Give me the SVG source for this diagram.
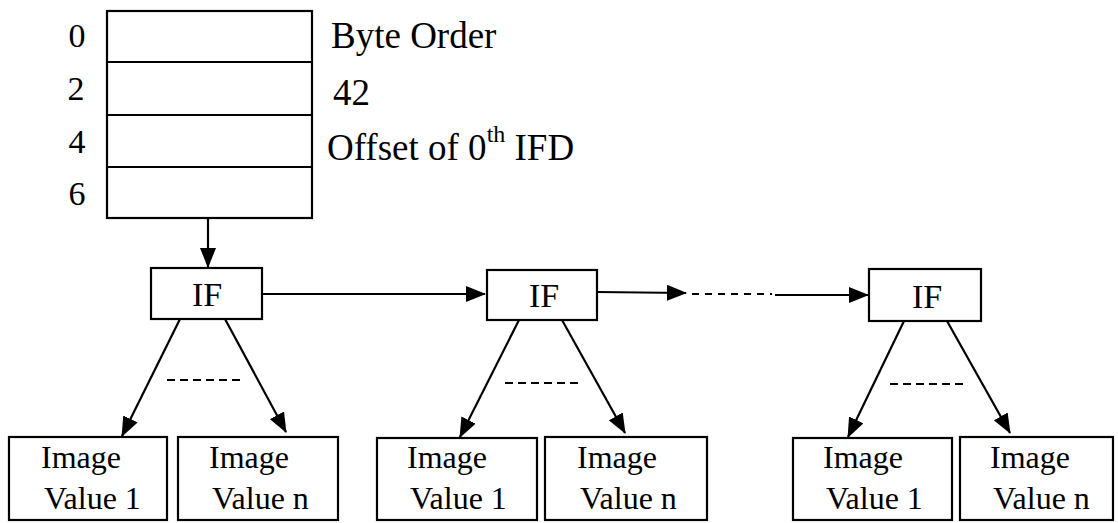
<svg xmlns="http://www.w3.org/2000/svg" width="1118" height="523" viewBox="0 0 1118 523">
<style>
text{font-family:"Liberation Serif","Times New Roman",serif;fill:#000}
.box{fill:#fff;stroke:#000;stroke-width:2.2}
.ln{stroke:#000;stroke-width:2.2;fill:none}
.dash{stroke:#000;stroke-width:2.2;fill:none;stroke-dasharray:8 5}
.lbl{font-size:37px}
.num{font-size:34px}
.if{font-size:34px}
.val{font-size:32px}
</style>
<defs>
<marker id="ahb" viewBox="0 0 20 16" refX="19" refY="8" markerWidth="20" markerHeight="16" markerUnits="userSpaceOnUse" orient="auto">
<path d="M0,0 L20,8 L0,16 z" fill="#000"/>
</marker>
</defs>

<g id="header">
<rect class="box" x="107" y="11" width="205" height="207"/>
<line class="ln" x1="107" y1="62" x2="312" y2="62"/>
<line class="ln" x1="107" y1="115" x2="312" y2="115"/>
<line class="ln" x1="107" y1="167" x2="312" y2="167"/>
<text class="num" x="77" y="47" text-anchor="middle">0</text>
<text class="num" x="76" y="100" text-anchor="middle">2</text>
<text class="num" x="77" y="153" text-anchor="middle">4</text>
<text class="num" x="77" y="205" text-anchor="middle">6</text>
<text class="lbl" x="331" y="48">Byte Order</text>
<text class="lbl" x="333" y="105">42</text>
<text class="lbl" x="327" y="160">Offset of 0<tspan font-size="24" dy="-18">th</tspan><tspan dy="18"> IFD</tspan></text>
</g>

<g id="if1">
<rect class="box" x="151" y="268" width="111" height="51"/>
<text class="if" x="207" y="306" text-anchor="middle">IF</text>
</g>
<g id="if2">
<rect class="box" x="487" y="270" width="110" height="50"/>
<text class="if" x="544" y="307" text-anchor="middle">IF</text>
</g>
<g id="if3">
<rect class="box" x="869" y="269" width="112" height="52"/>
<text class="if" x="927" y="308" text-anchor="middle">IF</text>
</g>

<g id="v1a"><rect class="box" x="9" y="437" width="158" height="83"/><text class="val" x="41" y="468">Image</text><text class="val" x="44" y="509">Value 1</text></g>
<g id="vna"><rect class="box" x="178" y="437" width="160" height="83"/><text class="val" x="209" y="468">Image</text><text class="val" x="212" y="509">Value n</text></g>
<g id="v1b"><rect class="box" x="377" y="438" width="160" height="82"/><text class="val" x="407" y="468">Image</text><text class="val" x="410" y="509">Value 1</text></g>
<g id="vnb"><rect class="box" x="545" y="437" width="162" height="83"/><text class="val" x="577" y="468">Image</text><text class="val" x="580" y="509">Value n</text></g>
<g id="v1c"><rect class="box" x="793" y="438" width="159" height="82"/><text class="val" x="823" y="468">Image</text><text class="val" x="826" y="509">Value 1</text></g>
<g id="vnc"><rect class="box" x="960" y="437" width="153" height="83"/><text class="val" x="990" y="468">Image</text><text class="val" x="993" y="509">Value n</text></g>

<g id="connectors">
<line class="ln" x1="208" y1="218" x2="208" y2="267" marker-end="url(#ahb)"/>
<line class="ln" x1="262" y1="294" x2="485" y2="294" marker-end="url(#ahb)"/>
<line class="ln" x1="597" y1="292" x2="686" y2="293" marker-end="url(#ahb)"/>
<line class="ln" x1="692" y1="294" x2="772" y2="294" stroke-dasharray="7 6"/>
<line class="ln" x1="775" y1="295" x2="868" y2="295" marker-end="url(#ahb)"/>

<line class="ln" x1="180" y1="319" x2="122" y2="436" marker-end="url(#ahb)"/>
<line class="ln" x1="225" y1="319" x2="286" y2="432" marker-end="url(#ahb)"/>
<line class="dash" x1="167" y1="380" x2="240" y2="380"/>

<line class="ln" x1="519" y1="320" x2="460" y2="437" marker-end="url(#ahb)"/>
<line class="ln" x1="562" y1="320" x2="625" y2="433" marker-end="url(#ahb)"/>
<line class="dash" x1="505" y1="383" x2="580" y2="383"/>

<line class="ln" x1="904" y1="321" x2="848" y2="437" marker-end="url(#ahb)"/>
<line class="ln" x1="947" y1="321" x2="1010" y2="433" marker-end="url(#ahb)"/>
<line class="dash" x1="890" y1="384" x2="965" y2="384"/>
</g>
</svg>
